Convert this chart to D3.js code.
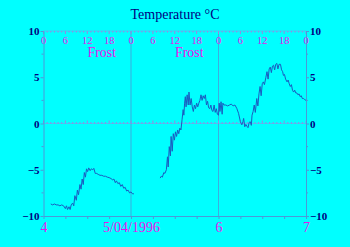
<html>
<head>
<meta charset="utf-8">
<script src="https://d3js.org/d3.v7.min.js"></script>
<style>
  body { margin: 0; background: #00ffff; }
  svg { display: block; }
  text { font-family: "Liberation Serif", "DejaVu Serif", serif; }
</style>
</head>
<body>
<svg id="chart" width="350" height="247"></svg>
<script>
// hours since 4 April 1996 00:00, temperature in deg C
const firstHours = [2, 2.5, 3, 3.5, 4, 4.5, 5, 5.5, 6, 6.3, 6.6, 7, 7.3, 7.6, 8, 8.3, 8.6, 9, 9.3, 9.6, 10, 10.3, 10.6, 10.9, 11.2, 11.5, 11.8, 12.1, 12.4, 12.8, 13.1, 13.5, 13.8, 14.2, 14.6, 15, 15.5, 16, 16.5, 17, 17.5, 18, 18.5, 19, 19.3, 19.7, 20, 20.4, 20.8, 21.2, 21.6, 22, 22.4, 22.8, 23.2, 23.6, 24, 24.4, 24.8];
const firstTemps = [-8.7, -8.8, -8.7, -8.8, -8.8, -8.9, -8.8, -8.9, -9.2, -8.9, -9.3, -9.0, -9.3, -8.8, -8.6, -8.9, -7.8, -8.3, -7.2, -7.7, -6.6, -7.1, -6.0, -6.6, -5.3, -5.8, -4.9, -5.2, -4.8, -5.1, -4.9, -5.0, -4.85, -5.4, -5.4, -5.5, -5.6, -5.6, -5.7, -5.7, -5.8, -5.85, -5.95, -6.1, -6.0, -6.4, -6.2, -6.5, -6.4, -6.8, -6.6, -7.0, -6.9, -7.3, -7.2, -7.5, -7.4, -7.6, -7.6];

const secondHours = [32, 32.3, 32.6, 33, 33.3, 33.7, 34, 34.2, 34.5, 34.8, 35, 35.3, 35.6, 35.9, 36.2, 36.5, 36.8, 37.1, 37.4, 37.7, 38, 38.3, 38.5, 38.7, 38.9, 39.1, 39.4, 39.7, 39.9, 40.2, 40.5, 40.8, 41.1, 41.4, 41.7, 42, 42.3, 42.6, 42.9, 43.2, 43.5, 43.8, 44.1, 44.4, 44.7, 45, 45.3, 45.6, 45.9, 46.2, 46.5, 46.8, 47.1, 47.4, 47.7, 48, 48.2, 48.4, 48.7, 49, 49.2, 49.5, 50, 50.5, 51, 51.5, 52, 52.5, 53, 53.5, 54, 54.4, 54.7, 54.9, 55.2, 55.5, 55.8, 56.1, 56.4, 56.7, 57, 57.2, 57.5, 57.8, 58.1, 58.5, 58.8, 59.1, 59.4, 59.7, 60, 60.3, 60.6, 61, 61.3, 61.6, 61.9, 62.2, 62.5, 62.8, 63.1, 63.4, 63.7, 64, 64.3, 64.6, 65, 65.3, 65.6, 65.8, 66.1, 66.4, 66.8, 67.1, 67.4, 67.7, 68, 68.3, 68.6, 68.9, 69.2, 69.5, 69.8, 70.1, 70.4, 70.7, 71, 71.3, 71.6, 72];
const secondTemps = [-5.9, -5.7, -5.8, -5.3, -5.4, -5.0, -3.6, -4.7, -2.5, -3.5, -1.4, -3.0, -1.1, -1.8, -0.9, -1.4, -0.7, -1.1, -0.5, -0.7, 0.4, 1.5, 0.9, 2.2, 2.9, 1.8, 3.1, 2.0, 3.4, 2.0, 2.7, 1.8, 1.3, 2.0, 1.6, 2.2, 1.8, 2.2, 2.5, 3.1, 2.5, 3.0, 2.7, 3.1, 2.0, 2.4, 1.7, 1.6, 2.0, 1.4, 1.3, 2.0, 1.2, 1.6, 1.0, 0.9, 2.2, 1.3, 2.35, 1.0, 2.2, 2.0, 2.0, 1.9, 2.0, 2.1, 1.9, 2.0, 1.65, 1.1, 0.2, -0.15, 0.2, 0.55, -0.35, -0.1, -0.3, -0.45, 0.1, 0.2, -0.2, 0.9, 1.3, 2.0, 1.2, 2.7, 1.9, 3.2, 4.0, 3.0, 4.3, 4.5, 4.2, 5.0, 5.6, 4.8, 5.9, 6.1, 5.5, 6.2, 6.3, 5.8, 6.4, 6.5, 5.9, 6.4, 6.4, 5.8, 5.6, 5.2, 5.3, 4.8, 4.5, 4.7, 4.3, 4.0, 4.2, 3.6, 3.4, 3.6, 3.3, 3.3, 3.1, 3.2, 2.9, 3.0, 2.7, 2.7, 2.6, 2.5];

const yTicks = [-10, -5, 0, 5, 10];
const yMinor = [-7.5, -2.5, 2.5, 7.5];
const dayHours = [0, 24, 48, 72];
const dayLabels = ["4", "5/04/1996", "6", "7"];
const hourLabels = ["0", "6", "12", "18"];
const frostHours = [16, 40];
const title = "Temperature \u00b0C";

const navy = "#000080", magenta = "#ee10ee", axisBlue = "#4a9ad8", tickViolet = "#a080e0", lineBlue = "#1a5cc0";

const svg = d3.select("#chart");
const x = d3.scaleLinear().domain([0, 72]).range([43.5, 306]);
const y = d3.scaleLinear().domain([-10, 10]).range([216, 31]);

// title
svg.append("text").attr("x", 175).attr("y", 19).attr("text-anchor", "middle")
  .attr("font-size", 14).attr("fill", navy).text(title);

// day separators
svg.append("g").selectAll("line").data(dayHours.slice(1, 3)).join("line")
  .attr("x1", d => x(d)).attr("x2", d => x(d)).attr("y1", y(10)).attr("y2", y(-10))
  .attr("stroke", axisBlue).attr("stroke-width", 1).attr("opacity", 0.8);

const hours = d3.range(0, 73, 1);
const sixes = d3.range(0, 73, 6);

// top hour axis
const topAx = svg.append("g").attr("transform", `translate(0,${y(10)})`);
topAx.append("line").attr("x1", x(0)).attr("x2", x(72)).attr("stroke", tickViolet)
  .attr("stroke-dasharray", "1,1");
topAx.selectAll("line.t").data(hours).join("line").attr("class", "t")
  .attr("x1", d => x(d)).attr("x2", d => x(d)).attr("y1", 0).attr("y2", d => d % 6 ? 1.5 : 3)
  .attr("stroke", tickViolet);
topAx.selectAll("text").data(sixes).join("text")
  .attr("x", d => x(d)).attr("y", 13).attr("text-anchor", "middle")
  .attr("font-size", 10.5).attr("fill", magenta)
  .text(d => hourLabels[(d % 24) / 6]);

// frost labels
svg.append("g").selectAll("text").data(frostHours).join("text")
  .attr("x", d => x(d)).attr("y", 57).attr("text-anchor", "middle")
  .attr("font-size", 14).attr("fill", magenta).text("Frost");

// zero line
const zeroAx = svg.append("g").attr("transform", `translate(0,${y(0)})`);
zeroAx.append("line").attr("x1", x(0)).attr("x2", x(72)).attr("stroke", tickViolet)
  .attr("stroke-dasharray", "1,1");
zeroAx.selectAll("line.t").data(hours).join("line").attr("class", "t")
  .attr("x1", d => x(d)).attr("x2", d => x(d)).attr("y1", 0).attr("y2", d => d % 6 ? -1.5 : -3)
  .attr("stroke", tickViolet);

// bottom axis
const bottom = d3.axisBottom(x).tickValues(sixes).tickSize(3).tickSizeOuter(0)
  .tickFormat(d => d % 24 ? "" : dayLabels[d / 24]);
const bx = svg.append("g").attr("transform", `translate(0,${y(-10)})`).call(bottom);
bx.select(".domain").attr("stroke", axisBlue);
bx.selectAll(".tick line").attr("stroke", axisBlue);
bx.selectAll(".tick text").attr("fill", magenta).attr("font-size", 14)
  .attr("font-family", "Liberation Serif").attr("y", 6);

// left and right axes
function styleY(g) {
  g.select(".domain").attr("stroke", axisBlue);
  g.selectAll(".tick line").attr("stroke", axisBlue);
  g.selectAll(".tick text").attr("fill", navy).attr("font-size", 11)
    .attr("font-family", "Liberation Serif").attr("font-weight", "bold");
}
const left = svg.append("g").attr("transform", `translate(${x(0)},0)`)
  .call(d3.axisLeft(y).tickValues(yTicks).tickSize(3).tickSizeOuter(0).tickPadding(1));
styleY(left);
left.append("g").selectAll("line").data(yMinor).join("line")
  .attr("x1", 0).attr("x2", -2).attr("y1", d => y(d)).attr("y2", d => y(d)).attr("stroke", axisBlue);

const right = svg.append("g").attr("transform", `translate(${x(72)},0)`)
  .call(d3.axisRight(y).tickValues(yTicks).tickSize(3).tickSizeOuter(0).tickPadding(1));
styleY(right);
right.append("g").selectAll("line").data(yMinor).join("line")
  .attr("x1", 0).attr("x2", 2).attr("y1", d => y(d)).attr("y2", d => y(d)).attr("stroke", axisBlue);

// temperature trace
const line = d3.line().x(d => x(d[0])).y(d => y(d[1]));
const segments = [d3.zip(firstHours, firstTemps), d3.zip(secondHours, secondTemps)];
svg.append("g").selectAll("path").data(segments).join("path")
  .attr("d", line).attr("fill", "none").attr("stroke", lineBlue).attr("stroke-width", 1);
</script>
</body>
</html>
